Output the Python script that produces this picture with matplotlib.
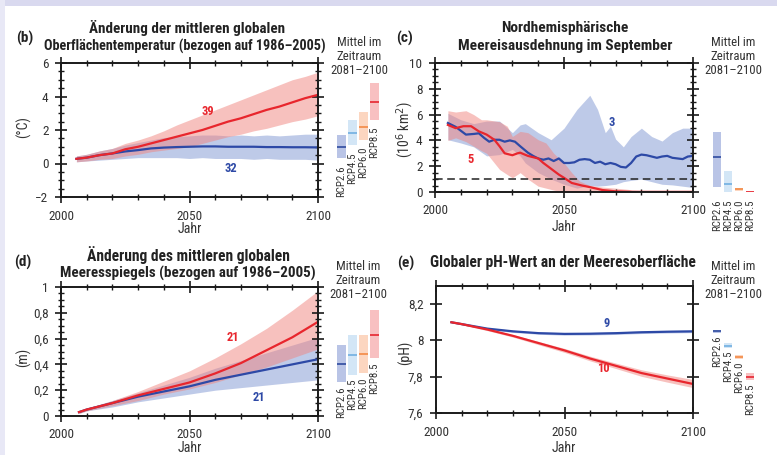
import matplotlib
matplotlib.use('Agg')
import matplotlib.pyplot as plt
from matplotlib import font_manager as fm
from matplotlib.patches import Rectangle
from matplotlib.ticker import MultipleLocator

# pick a condensed sans face if one is installed (reference uses a condensed font)
_names = {f.name for f in fm.fontManager.ttflist}
FAM, STRETCH = None, 'normal'
for n in ['Roboto Condensed', 'Liberation Sans Narrow', 'Open Sans Condensed', 'Noto Sans Condensed']:
    if n in _names:
        FAM = n
        break
if FAM is None:
    if any(f.name == 'DejaVu Sans' and f.stretch == 'condensed' for f in fm.fontManager.ttflist):
        FAM, STRETCH = 'DejaVu Sans', 'condensed'
    else:
        FAM = 'Liberation Sans'
plt.rcParams['font.family'] = [FAM, 'DejaVu Sans']
plt.rcParams['font.stretch'] = STRETCH

W, H = 777, 455
fig = plt.figure(figsize=(W / 100, H / 100), dpi=100)
fig.patch.set_facecolor('white')
renderer = fig.canvas.get_renderer()

RED = '#e8262d'
BLUE = '#2d49a6'
RED_BAND = '#f0847f'
BLUE_BAND = '#8a9fd6'
TXT = '#333333'

scenarios = ['RCP2.6', 'RCP4.5', 'RCP6.0', 'RCP8.5']
sc_fill = ['#b9c4e6', '#d3e6f6', '#fcd6c0', '#f8c0c1']
sc_line = ['#3a55a5', '#79b4e3', '#f4904e', '#e8323c']

# ---------------- (b) temperature ----------------
b_years = [2006, 2010, 2015, 2020, 2025, 2030, 2035, 2040, 2045, 2050,
           2055, 2060, 2065, 2070, 2075, 2080, 2085, 2090, 2095, 2100]
b_red = [0.28, 0.35, 0.5, 0.6, 0.85, 1.0, 1.2, 1.4, 1.6, 1.8,
         2.0, 2.25, 2.5, 2.7, 2.95, 3.2, 3.4, 3.65, 3.9, 4.1]
b_red_lo = [0.1, 0.15, 0.25, 0.3, 0.45, 0.55, 0.7, 0.8, 0.9, 1.0,
            1.2, 1.4, 1.6, 1.75, 1.95, 2.1, 2.3, 2.5, 2.65, 2.85]
b_red_hi = [0.45, 0.55, 0.75, 0.9, 1.2, 1.4, 1.65, 1.95, 2.3, 2.6,
            2.9, 3.2, 3.5, 3.8, 4.1, 4.4, 4.7, 5.0, 5.2, 5.45]
b_blue = [0.28, 0.35, 0.5, 0.6, 0.72, 0.8, 0.9, 0.95, 0.98, 1.0,
          1.02, 1.02, 1.0, 1.0, 1.0, 0.98, 0.98, 0.97, 0.97, 0.96]
b_blue_lo = [0.1, 0.15, 0.2, 0.25, 0.3, 0.35, 0.35, 0.35, 0.35, 0.3,
             0.35, 0.3, 0.3, 0.3, 0.25, 0.3, 0.25, 0.25, 0.25, 0.2]
b_blue_hi = [0.45, 0.55, 0.75, 0.9, 1.1, 1.25, 1.4, 1.55, 1.6, 1.65,
             1.7, 1.7, 1.65, 1.7, 1.65, 1.7, 1.65, 1.7, 1.75, 1.75]
b_mean = [1.0, 1.8, 2.2, 3.7]
b_lo = [0.3, 1.1, 1.4, 2.6]
b_hi = [1.7, 2.6, 3.1, 4.8]

# ---------------- (c) sea ice ----------------
c_blue_years = [2005, 2008, 2010, 2012, 2015, 2017, 2019, 2021, 2023, 2025, 2027, 2029,
                2031, 2033, 2036, 2038, 2040, 2042, 2044, 2046, 2048, 2050, 2052, 2054,
                2056, 2058, 2060, 2062, 2064, 2066, 2068, 2070, 2072, 2074, 2076, 2078,
                2080, 2082, 2084, 2086, 2088, 2090, 2092, 2094, 2096, 2098, 2100]
c_blue = [5.35, 5.05, 4.75, 4.45, 4.5, 4.55, 4.2, 3.9, 4.05, 4.05, 3.9, 4.0,
          3.9, 3.55, 3.05, 2.8, 2.6, 2.5, 2.6, 2.4, 2.6, 2.25, 2.25, 2.3,
          2.5, 2.55, 2.5, 2.25, 2.35, 2.15, 2.25, 2.15, 1.95, 1.9, 2.25, 2.75,
          2.9, 2.85, 2.75, 2.65, 2.75, 2.8, 2.65, 2.6, 2.55, 2.75, 2.8]
c_bband_years = [2005, 2010, 2015, 2020, 2025, 2030, 2033, 2035, 2040, 2045, 2050, 2055,
                 2060, 2063, 2066, 2068, 2070, 2073, 2076, 2080, 2084, 2088, 2092, 2096, 2100]
c_blue_hi = [6.1, 5.6, 5.3, 5.5, 5.5, 4.6, 5.2, 5.3, 4.6, 4.05, 4.95, 6.4,
             7.5, 6.4, 4.6, 5.1, 4.1, 3.5, 4.3, 4.95, 4.3, 3.95, 4.6, 4.95, 4.95]
c_blue_lo = [4.05, 3.8, 3.5, 2.8, 2.9, 3.3, 2.8, 2.25, 1.5, 1.0, 0.6, 0.3,
             0.5, 0.45, 0.5, 0.55, 0.6, 0.8, 0.9, 1.0, 0.8, 0.6, 0.55, 0.45, 0.35]
c_red_years = [2005, 2008, 2011, 2014, 2017, 2020, 2023, 2025, 2027, 2030, 2032, 2033,
               2036, 2040, 2042, 2045, 2048, 2050, 2053, 2057, 2060, 2065, 2070, 2075,
               2080, 2090, 2100]
c_red = [5.2, 4.95, 5.1, 5.1, 4.7, 4.45, 4.05, 3.55, 3.0, 2.85, 3.0, 3.05,
         2.8, 2.6, 2.25, 1.8, 1.35, 1.1, 0.7, 0.5, 0.38, 0.15, 0.05, 0.02,
         0.01, 0.01, 0.01]
c_rband_years = [2005, 2008, 2012, 2015, 2018, 2020, 2025, 2028, 2030, 2033, 2036, 2040,
                 2043, 2046, 2050, 2053, 2056, 2060, 2065, 2070, 2075, 2078]
c_red_hi = [6.3, 6.2, 6.3, 6.0, 5.6, 5.6, 5.45, 5.1, 4.3, 4.7, 4.6, 4.05,
            3.8, 3.0, 2.25, 1.5, 0.85, 0.5, 0.38, 0.3, 0.2, 0.0]
c_red_lo = [4.0, 4.2, 3.9, 3.55, 3.2, 3.0, 1.75, 1.35, 1.1, 1.5, 1.0, 0.45,
            0.3, 0.15, 0.0, 0.0, 0.0, 0.0, 0.0, 0.0, 0.0, 0.0]
c_mean = [2.7, 0.62, 0.2, 0.03]
c_lo = [0.4, 0.0, 0.1, 0.0]
c_hi = [4.65, 1.63, 0.3, 0.06]

# ---------------- (d) sea level ----------------
d_years = [2007, 2010, 2020, 2030, 2040, 2050, 2060, 2070, 2080, 2090, 2100]
d_red = [0.03, 0.05, 0.10, 0.16, 0.21, 0.26, 0.33, 0.41, 0.51, 0.61, 0.73]
d_red_hi = [0.04, 0.06, 0.12, 0.19, 0.27, 0.35, 0.45, 0.56, 0.68, 0.82, 0.97]
d_red_lo = [0.02, 0.04, 0.08, 0.12, 0.17, 0.21, 0.26, 0.32, 0.38, 0.45, 0.52]
d_blue = [0.03, 0.05, 0.10, 0.15, 0.19, 0.23, 0.28, 0.32, 0.36, 0.40, 0.44]
d_blue_hi = [0.04, 0.06, 0.12, 0.18, 0.24, 0.30, 0.37, 0.43, 0.49, 0.55, 0.61]
d_blue_lo = [0.02, 0.04, 0.07, 0.11, 0.14, 0.17, 0.20, 0.22, 0.24, 0.26, 0.28]
d_mean = [0.40, 0.47, 0.48, 0.63]
d_lo = [0.26, 0.32, 0.33, 0.45]
d_hi = [0.55, 0.63, 0.63, 0.82]

# ---------------- (e) pH ----------------
e_years = [2006, 2010, 2020, 2030, 2040, 2050, 2060, 2070, 2080, 2090, 2100]
e_red = [8.10, 8.09, 8.06, 8.025, 7.985, 7.945, 7.90, 7.86, 7.82, 7.79, 7.76]
e_red_hi = [8.103, 8.094, 8.066, 8.032, 7.994, 7.956, 7.913, 7.875, 7.838, 7.81, 7.785]
e_red_lo = [8.097, 8.086, 8.054, 8.018, 7.976, 7.934, 7.887, 7.845, 7.802, 7.77, 7.74]
e_blue = [8.10, 8.09, 8.065, 8.05, 8.04, 8.036, 8.037, 8.04, 8.045, 8.048, 8.05]
e_blue_hi = [8.103, 8.094, 8.07, 8.056, 8.046, 8.043, 8.044, 8.047, 8.052, 8.055, 8.057]
e_blue_lo = [8.097, 8.086, 8.06, 8.044, 8.034, 8.029, 8.03, 8.033, 8.038, 8.041, 8.043]
e_mean = [8.05, 7.97, 7.91, 7.80]
e_lo = [8.04, 7.96, 7.90, 7.78]
e_hi = [8.06, 7.985, 7.92, 7.82]


def size_for(s, target_w, weight='normal', cap=None):
    t = fig.text(0, 0, s, fontsize=10, fontweight=weight)
    w = t.get_window_extent(renderer).width
    t.remove()
    sz = 10 * target_w / w
    return min(sz, cap) if cap else sz


TICK_FS = 9.5
JAHR_FS = 10
MIT_FS = 9.2
RCP_FS = 7.8
NUM_FS = 9
PAN_FS = 11
YL_FS = 10


def ax_px(l, t, r, b):
    return fig.add_axes([l / W, 1 - b / H, (r - l) / W, (b - t) / H])


def ftext(x, y, s, **kw):
    kw.setdefault('color', TXT)
    return fig.text(x / W, 1 - y / H, s, **kw)


def style_main(ax, ylim, yticks, ylabels, ymin):
    ax.set_xlim(2000, 2100)
    ax.xaxis.set_minor_locator(MultipleLocator(10))
    ax.set_xticks([2000, 2050, 2100])
    ax.set_xticklabels(['2000', '2050', '2100'])
    ax.set_yticks(yticks)
    ax.set_yticklabels(ylabels)
    if ymin:
        ax.yaxis.set_minor_locator(MultipleLocator(ymin))
    ax.set_ylim(*ylim)
    for s in ax.spines.values():
        s.set_linewidth(1.4)
        s.set_color('#1a1a1a')
    ax.tick_params(which='both', top=True, right=True, direction='inout',
                   color='#1a1a1a', labelsize=TICK_FS, labelcolor=TXT, pad=5)
    ax.tick_params(which='major', length=8, width=1.2)
    ax.tick_params(which='minor', length=4, width=1.0)
    ax.set_facecolor('white')


def side(l, t, r, b, ylim, mean, lo, hi, off, fixed=None):
    sa = ax_px(l, t, r, b)
    sa.set_xlim(-0.5, 3.5)
    sa.set_ylim(*ylim)
    sa.axis('off')
    for i in range(4):
        sa.add_patch(Rectangle((i - 0.4, lo[i]), 0.8, hi[i] - lo[i],
                               facecolor=sc_fill[i], edgecolor='none', zorder=1))
        sa.plot([i - 0.4, i + 0.4], [mean[i], mean[i]], color=sc_line[i], lw=1.3,
                solid_capstyle='butt', zorder=2)
        ytxt = lo[i] if fixed is None else fixed
        sa.annotate(scenarios[i], (i, ytxt), xytext=(0, -off), textcoords='offset points',
                    rotation=90, ha='center', va='top', fontsize=RCP_FS, color=TXT,
                    annotation_clip=False)
    return sa


# frame decoration
fig.patches.append(Rectangle((0, 1 - 6 / H), 1, 6 / H, transform=fig.transFigure,
                             facecolor='#d9d9ef', edgecolor='none'))
fig.patches.append(Rectangle((0, 0), 5 / W, 1, transform=fig.transFigure,
                             facecolor='#e8e8f6', edgecolor='none'))

nkw = dict(fontsize=NUM_FS, fontweight='bold', ha='center', va='center')
LW = 1.6

# ---- panel b ----
ax = ax_px(61, 63, 318, 197)
ax.fill_between(b_years, b_blue_lo, b_blue_hi, color=BLUE_BAND, alpha=0.55, lw=0)
ax.fill_between(b_years, b_red_lo, b_red_hi, color=RED_BAND, alpha=0.5, lw=0)
ax.plot(b_years, b_blue, color=BLUE, lw=LW)
ax.plot(b_years, b_red, color=RED, lw=LW)
ax.text(2057, 3.1, '39', color=RED, **nkw)
ax.text(2066, -0.3, '32', color=BLUE, **nkw)
style_main(ax, (-2, 6), [-2, 0, 2, 4, 6], ['\u22122', '0', '2', '4', '6'], 0.5)
side(336, 63, 380, 197, (-2, 6), b_mean, b_lo, b_hi, 5)

# ---- panel c ----
ax = ax_px(435, 63, 693, 192)
ax.fill_between(c_bband_years, c_blue_lo, c_blue_hi, color=BLUE_BAND, alpha=0.55, lw=0)
ax.fill_between(c_rband_years, c_red_lo, c_red_hi, color=RED_BAND, alpha=0.5, lw=0)
ax.plot(c_blue_years, c_blue, color=BLUE, lw=LW)
ax.plot(c_red_years, c_red, color=RED, lw=LW)
ax.axhline(1, color='#222222', lw=1.1, ls=(0, (5, 3)))
ax.text(2068.5, 5.35, '3', color=BLUE, **nkw)
ax.text(2013.8, 2.55, '5', color=RED, **nkw)
style_main(ax, (0, 10), [0, 2, 4, 6, 8, 10], ['0', '2', '4', '6', '8', '10'], 0.5)
side(711.5, 63, 755.5, 192, (0, 10), c_mean, c_lo, c_hi, 0, fixed=-0.55)

# ---- panel d ----
ax = ax_px(61, 287, 318, 416)
ax.fill_between(d_years, d_blue_lo, d_blue_hi, color=BLUE_BAND, alpha=0.55, lw=0)
ax.fill_between(d_years, d_red_lo, d_red_hi, color=RED_BAND, alpha=0.5, lw=0)
ax.plot(d_years, d_blue, color=BLUE, lw=LW)
ax.plot(d_years, d_red, color=RED, lw=LW)
ax.text(2067, 0.605, '21', color=RED, **nkw)
ax.text(2077, 0.147, '21', color=BLUE, **nkw)
style_main(ax, (0, 1), [0, 0.2, 0.4, 0.6, 0.8, 1.0],
           ['0', '0,2', '0,4', '0,6', '0,8', '1'], 0.05)
side(336, 287, 380, 416, (0, 1), d_mean, d_lo, d_hi, 3)

# ---- panel e ----
ax = ax_px(436, 286, 693, 413)
ax.fill_between(e_years, e_blue_lo, e_blue_hi, color=BLUE_BAND, alpha=0.55, lw=0)
ax.fill_between(e_years, e_red_lo, e_red_hi, color=RED_BAND, alpha=0.5, lw=0)
ax.plot(e_years, e_blue, color=BLUE, lw=LW)
ax.plot(e_years, e_red, color=RED, lw=LW)
ax.text(2066.3, 8.094, '9', color=BLUE, **nkw)
ax.text(2065, 7.846, '10', color=RED, **nkw)
style_main(ax, (7.6, 8.3), [7.6, 7.8, 8.0, 8.2], ['7,6', '7,8', '8', '8,2'], None)
side(711.5, 286, 755.5, 413, (7.6, 8.3), e_mean, e_lo, e_hi, 2)

# y labels
ykw = dict(fontsize=YL_FS, rotation=90, ha='center', va='center')
ftext(23, 127, '(°C)', **ykw)
ftext(405, 130, '(10$^6$ km$^2$)', **ykw)
ftext(23, 357, '(m)', **ykw)
ftext(405, 353, '(pH)', **ykw)

# x labels
for x, y in [(190, 229), (564, 227), (190, 448), (564, 448)]:
    ftext(x, y, 'Jahr', fontsize=JAHR_FS, ha='center', va='center')

# titles (fitted to the reference widths)
tkw = dict(fontsize=10, fontweight='bold', ha='center', va='center', color='#222222')
titles = [(187, 28, 'Änderung der mittleren globalen', 195),
          (185, 46, 'Oberflächentemperatur (bezogen auf 1986–2005)', 280),
          (565, 28, 'Nordhemisphärische', 127),
          (565, 46, 'Meereisausdehnung im September', 213),
          (188, 255, 'Änderung des mittleren globalen', 204),
          (188, 273, 'Meeresspiegels (bezogen auf 1986–2005)', 254),
          (563, 263, 'Globaler pH-Wert an der Meeresoberfläche', 266)]
for x, y, s, w in titles:
    ftext(x, y, s, **dict(tkw, fontsize=size_for(s, w, 'bold', cap=12)))

pkw = dict(fontsize=PAN_FS, fontweight='bold', ha='center', va='center', color='#222222')
ftext(25, 38, '(b)', **pkw)
ftext(405, 38, '(c)', **pkw)
ftext(23, 262, '(d)', **pkw)
ftext(406, 263, '(e)', **pkw)

mkw = dict(fontsize=MIT_FS, ha='center', va='center')
for cx, y0 in [(359, 42), (733, 42), (358, 267), (733, 267)]:
    ftext(cx, y0, 'Mittel im', **mkw)
    ftext(cx, y0 + 14, 'Zeitraum', **mkw)
    ftext(cx, y0 + 28, '2081–2100', **mkw)

fig.savefig('out.png', dpi=100)
